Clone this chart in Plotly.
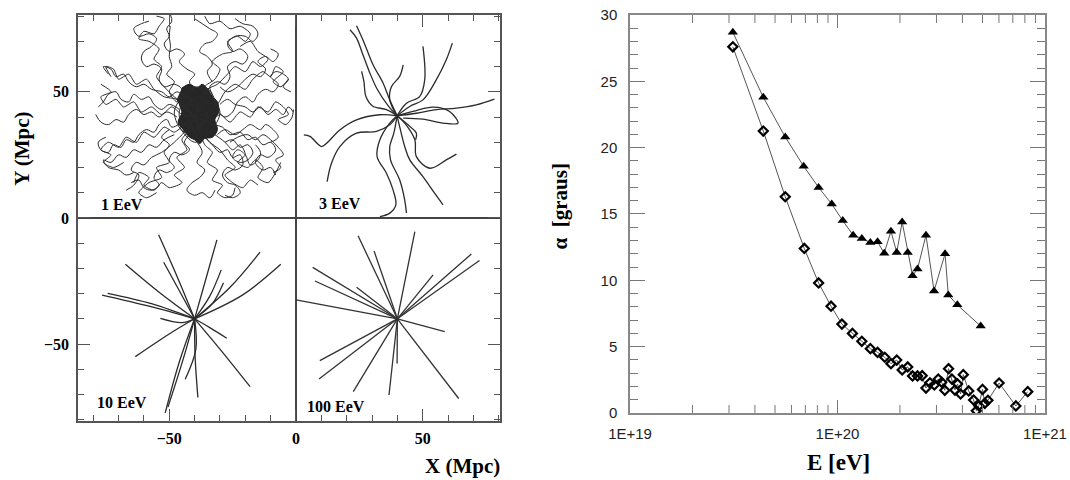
import plotly.graph_objects as go

# ---------------- Right panel data: deflection angle vs energy ----------------
E_tri = [3.13e19, 4.39e19, 5.60e19, 6.87e19, 8.11e19, 9.38e19, 1.06e20, 1.19e20,
         1.31e20, 1.44e20, 1.56e20, 1.68e20, 1.81e20, 1.93e20, 2.05e20, 2.18e20,
         2.30e20, 2.43e20, 2.67e20, 2.92e20, 3.30e20, 3.42e20, 3.78e20, 4.90e20]
alpha_tri = [28.7, 23.8, 20.8, 18.6, 17.0, 15.75, 14.5, 13.4, 13.15, 12.85, 12.9, 12.05,
             13.7, 12.1, 14.4, 12.1, 10.35, 10.85, 13.4, 9.2, 12.0, 8.9, 8.15, 6.55]

E_dia = [3.13e19, 4.39e19, 5.60e19, 6.92e19, 8.11e19, 9.31e19, 1.05e20, 1.18e20,
         1.31e20, 1.44e20, 1.56e20, 1.69e20, 1.81e20, 1.93e20, 2.05e20, 2.18e20,
         2.30e20, 2.43e20, 2.56e20, 2.67e20, 2.79e20, 2.93e20, 3.06e20, 3.18e20,
         3.29e20, 3.43e20, 3.56e20, 3.68e20, 3.79e20, 3.92e20, 4.04e20, 4.29e20,
         4.53e20, 4.67e20, 4.80e20, 5.00e20, 5.13e20, 5.31e20, 6.01e20, 7.24e20, 8.26e20]
alpha_dia = [27.6, 21.25, 16.3, 12.4, 9.8, 8.05, 6.7, 6.0, 5.4, 4.85, 4.57, 4.2, 3.72,
             3.99, 3.25, 3.47, 2.79, 2.79, 2.81, 1.88, 2.28, 2.11, 2.56, 2.31, 1.71,
             3.34, 2.56, 1.73, 2.19, 1.43, 2.89, 1.66, 0.98, 0.17, 0.55, 1.78, 0.73,
             0.96, 2.26, 0.53, 1.61]

E_ticks = [1e19, 1e20, 1e21]
E_ticktext = ["1E+19", "1E+20", "1E+21"]
E_minor = [float(m) * 10.0 ** d for d in (19, 20) for m in range(2, 10)]

# ---------------- Left panel data: trajectories (Mpc) ----------------
# 1 EeV (diffusive, centred near (-40, 40)) - wandering tracks
traj_1EeV_a = [
    [(-38, 42), (-41, 45), (-44, 44), (-46, 47), (-45, 51), (-48, 53), (-52, 52), (-54, 55),
     (-53, 59), (-56, 61), (-59, 60), (-61, 63), (-60, 66), (-57, 68), (-55, 71), (-58, 73),
     (-62, 72), (-64, 75), (-61, 77), (-58, 78)],
    [(-36, 45), (-33, 48), (-34, 52), (-31, 54), (-28, 53), (-26, 56), (-27, 60), (-24, 62),
     (-21, 61), (-19, 64), (-22, 67), (-25, 66), (-27, 69), (-24, 72), (-20, 72), (-17, 70),
     (-15, 73), (-17, 76), (-21, 77), (-24, 79)],
    [(-35, 40), (-31, 42), (-28, 40), (-25, 42), (-23, 46), (-20, 48), (-17, 46), (-15, 49),
     (-12, 51), (-9, 50), (-7, 53), (-10, 56), (-8, 58), (-5, 57), (-3, 55), (-5, 52), (-2, 50)],
    [(-33, 37), (-29, 36), (-26, 33), (-22, 34), (-19, 31), (-16, 32), (-13, 29), (-10, 30),
     (-8, 27), (-11, 24), (-14, 25), (-16, 22), (-13, 19), (-10, 20), (-8, 17)],
    [(-36, 32), (-33, 29), (-30, 26), (-27, 27), (-25, 24), (-22, 25), (-21, 21), (-24, 19),
     (-27, 20), (-29, 17), (-27, 14), (-24, 13), (-22, 10), (-25, 8), (-28, 9)],
    [(-42, 33), (-44, 30), (-42, 27), (-45, 25), (-48, 26), (-50, 23), (-48, 20), (-51, 18),
     (-54, 19), (-56, 16), (-54, 13), (-57, 11), (-60, 12), (-62, 15), (-65, 14)],
    [(-45, 38), (-49, 36), (-51, 39), (-54, 37), (-56, 34), (-59, 35), (-62, 33), (-64, 30),
     (-67, 31), (-69, 28), (-72, 29), (-74, 26), (-77, 27), (-78, 30), (-75, 32)],
    [(-46, 43), (-50, 45), (-53, 43), (-56, 45), (-58, 48), (-61, 47), (-64, 49), (-66, 46),
     (-69, 47), (-71, 50), (-74, 49), (-76, 46), (-78, 44)],
    [(-44, 48), (-47, 50), (-50, 48), (-53, 50), (-57, 51), (-60, 53), (-63, 52), (-66, 54),
     (-68, 57), (-71, 56), (-73, 59), (-76, 60), (-74, 57)],
    [(-40, 50), (-42, 54), (-40, 57), (-43, 59), (-46, 62), (-44, 65), (-47, 67), (-50, 66),
     (-52, 69), (-50, 72), (-51, 75), (-49, 78), (-49.5, 80.5)],
    [(-30, 45), (-27, 47), (-24, 45), (-20, 44), (-17, 42), (-14, 44), (-11, 41), (-8, 43),
     (-5, 41), (-3, 44), (-1, 42)],
    [(-28, 30), (-25, 31), (-22, 28), (-19, 29), (-17, 26), (-19, 23), (-22, 22), (-25, 24),
     (-23, 27), (-20, 25), (-18, 21), (-15, 23), (-14, 26), (-16, 29)],
    [(-31, 33), (-28, 35), (-24, 33), (-21, 35), (-18, 37), (-14, 35), (-12, 37), (-9, 35),
     (-7, 32), (-10, 30)],
    [(-48, 33), (-52, 31), (-55, 28), (-58, 29), (-61, 26), (-64, 27), (-67, 24), (-70, 25),
     (-73, 22), (-76, 23), (-74, 20), (-70, 19), (-67, 17), (-64, 18)],
    [(-39, 30), (-37, 26), (-39, 22), (-36, 19), (-38, 16), (-41, 14), (-43, 11), (-40, 9),
     (-37, 10), (-34, 8), (-32, 11)],
    [(-33, 54), (-35, 58), (-33, 61), (-35, 64), (-38, 66), (-36, 69), (-33, 70), (-31, 73),
     (-34, 75), (-37, 77), (-40, 79)],
    [(-47, 40), (-51, 42), (-54, 40), (-57, 42), (-60, 41), (-63, 43), (-66, 41), (-68, 38),
     (-71, 39), (-74, 37), (-77, 38), (-79, 41)],
    [(-26, 30), (-23, 32), (-19, 33), (-16, 31), (-13, 33), (-10, 31), (-7, 28), (-5, 25),
     (-8, 23), (-6, 20), (-9, 18)],
    [(-30, 52), (-27, 50), (-23, 52), (-20, 55), (-17, 57), (-14, 56), (-12, 59), (-15, 62),
     (-12, 64), (-9, 62), (-7, 65), (-10, 67)],
    [(-50, 35), (-53, 32), (-50, 29), (-53, 26), (-57, 24), (-60, 21), (-63, 22), (-65, 19),
     (-62, 17), (-64, 13), (-67, 11)],
    [(-40, 40), (-44, 44), (-38, 48), (-34, 44), (-40, 36), (-46, 40), (-42, 50), (-36, 52),
     (-32, 46), (-36, 38), (-44, 34), (-48, 42), (-44, 48), (-38, 44), (-34, 38), (-38, 32),
     (-42, 38), (-46, 46), (-40, 52), (-34, 48), (-30, 42), (-34, 34), (-40, 30), (-46, 36)],
]
# 1 EeV - second family of tracks, leaving the core
traj_1EeV_b = [
    [(-40, 40), (-43, 44), (-41, 47), (-45, 49), (-47, 46), (-50, 50), (-48, 54), (-51, 57),
     (-49, 60), (-50, 64), (-49.5, 68), (-50, 72), (-49.6, 76)],
    [(-40, 40), (-44, 45), (-48, 48), (-52, 52), (-55, 56), (-53, 60), (-56, 63), (-54, 67),
     (-58, 70), (-62, 71), (-60, 74), (-56, 73), (-54, 76), (-52, 79), (-55, 80)],
    [(-40, 40), (-37, 45), (-34, 48), (-36, 52), (-32, 55), (-30, 59), (-33, 62), (-29, 65),
     (-25, 66), (-27, 70), (-23, 72), (-20, 70), (-18, 73), (-22, 76), (-26, 75), (-30, 78),
     (-34, 77), (-36, 80)],
    [(-40, 40), (-35, 42), (-31, 45), (-28, 50), (-24, 53), (-20, 51), (-17, 55), (-13, 58),
     (-10, 56), (-8, 60), (-5, 58), (-9, 54), (-6, 52), (-3, 55)],
    [(-40, 40), (-34, 38), (-30, 41), (-26, 38), (-22, 42), (-18, 40), (-15, 44), (-11, 42),
     (-8, 46), (-5, 44), (-3, 41), (-7, 39), (-4, 37), (-1.5, 40), (-1, 43)],
    [(-40, 40), (-36, 35), (-32, 33), (-28, 30), (-25, 27), (-22, 29), (-20, 25), (-23, 22),
     (-19, 20), (-16, 23), (-13, 20), (-15, 16), (-11, 14), (-8, 18), (-6, 22)],
    [(-40, 40), (-37, 34), (-34, 30), (-30, 27), (-27, 23), (-24, 20), (-28, 17), (-25, 14),
     (-21, 12), (-18, 15), (-15, 13)],
    [(-40, 40), (-38, 34), (-36, 29), (-33, 26), (-35, 22), (-31, 19), (-33, 15), (-29, 13),
     (-31, 10), (-28, 8), (-25, 9), (-24, 12)],
    [(-40, 40), (-42, 35), (-45, 31), (-43, 27), (-47, 24), (-44, 20), (-48, 17), (-45, 14),
     (-50, 12), (-53, 14), (-56, 11), (-60, 13), (-58, 16), (-62, 18), (-64, 14)],
    [(-40, 40), (-44, 37), (-48, 34), (-52, 36), (-56, 32), (-60, 34), (-63, 30), (-67, 32),
     (-70, 28), (-74, 30), (-77, 27), (-73, 25), (-76, 22), (-72, 20), (-68, 22)],
    [(-40, 40), (-45, 41), (-49, 44), (-53, 41), (-57, 44), (-61, 42), (-64, 46), (-68, 44),
     (-71, 47), (-75, 45), (-77, 48), (-73, 50), (-77, 53)],
    [(-40, 40), (-44, 43), (-47, 47), (-52, 48), (-56, 51), (-59, 55), (-63, 53), (-66, 57),
     (-70, 55), (-72, 59), (-75, 60), (-73, 56)],
    [(-40, 40), (-38, 46), (-35, 51), (-31, 53), (-27, 57), (-24, 60), (-20, 58), (-17, 62),
     (-14, 60), (-11, 63), (-15, 66), (-18, 70), (-22, 68)],
    [(-40, 40), (-44, 34), (-48, 30), (-52, 26), (-50, 22), (-55, 20), (-53, 16), (-58, 14),
     (-62, 10), (-59, 8), (-55, 10)],
]
# outline of the saturated (black) core of the 1 EeV tracks
core_x = [-45, -42, -39, -37, -34.5, -33, -31, -30.5, -32, -31, -33, -36, -38, -40, -42,
          -44.5, -46.5, -45, -47]
core_y = [51.5, 53, 51.5, 53, 50.5, 48, 46, 42, 39, 35, 32, 31.5, 29.5, 31, 32,
          35, 38, 42, 47]

# 3 EeV (centred at (40, 40))
traj_3EeV = [
    [(39.9, 40.5), (36.4, 44.4), (32.0, 51.1), (28.9, 58.1), (26.2, 65.3), (23.9, 71.3), (21.3, 74.6)],
    [(39.9, 40.5), (37.0, 46.8), (34.4, 53.4), (30.4, 60.7), (27.2, 68.7), (25.2, 73.3), (23.9, 76.2)],
    [(39.9, 40.5), (35.7, 42.9), (30.2, 44.4), (27.6, 48.1), (26.8, 54.1), (25.9, 58.1)],
    [(39.9, 40.5), (37.0, 46.8), (37.7, 52.1), (40.9, 56.1), (42.3, 60.7)],
    [(39.9, 40.5), (43.6, 45.5), (48.8, 48.1), (50.8, 54.8), (50.1, 68.0)],
    [(39.9, 40.5), (44.9, 44.2), (50.1, 46.8), (55.4, 54.8), (59.3, 62.7), (61.7, 69.3)],
    [(39.9, 40.5), (47.5, 41.5), (55.4, 42.9), (63.3, 43.5), (71.1, 44.8), (78.3, 47.1)],
    [(39.9, 40.5), (46.2, 42.2), (54.1, 43.9), (60.6, 42.2), (63.9, 37.6), (58.0, 37.6),
     (50.1, 39.2), (42.3, 39.6)],
    [(39.9, 40.5), (33.1, 40.9), (23.9, 38.9), (17.3, 34.9), (12.1, 29.6), (10.1, 28.3),
     (5.5, 32.3), (3.1, 32.9)],
    [(39.9, 40.5), (37.0, 36.9), (31.8, 34.3), (23.9, 33.6), (17.3, 28.3), (14.0, 21.7), (12.3, 14.4)],
    [(39.9, 40.5), (37.0, 37.6), (33.1, 31.0), (32.0, 24.3), (35.7, 17.7), (38.3, 11.1),
     (39.4, 5.2), (37.0, 1.9), (33.1, 0.5)],
    [(39.9, 40.5), (38.6, 33.6), (37.0, 28.3), (37.3, 23.0), (40.9, 15.1), (42.9, 7.1), (43.6, 1.9)],
    [(39.9, 40.5), (40.9, 36.2), (42.9, 28.3), (44.9, 23.0), (50.1, 16.4), (54.7, 9.8), (58.0, 5.2)],
    [(39.9, 40.5), (42.9, 37.6), (46.9, 31.0), (47.5, 24.3), (52.8, 19.7), (59.3, 23.0), (63.3, 25.3)],
    [(39.9, 40.5), (44.2, 36.9), (47.5, 33.6), (47.2, 31.0)],
]

# 10 EeV (centred at (-40, -40)): (mid point, end point)
traj_10EeV = [
    [(-40, -40), (-47, -23), (-54.2, -6.7)],
    [(-40, -40), (-35.5, -24), (-31.2, -8.7)],
    [(-40, -40), (-54, -29.5), (-67.3, -18.4)],
    [(-40, -40), (-46.5, -28), (-52.2, -17.6)],
    [(-40, -40), (-26, -27.5), (-14.2, -13.6)],
    [(-40, -40), (-21, -30.5), (-6.0, -18.4)],
    [(-40, -40), (-34, -31), (-29.5, -20.6)],
    [(-40, -40), (-33, -34), (-28.6, -25.7)],
    [(-40, -40), (-58, -35), (-76.5, -30.6)],
    [(-40, -40), (-57, -34), (-74.3, -29.9)],
    [(-40, -40), (-45, -41.5), (-53.5, -39.8)],
    [(-40, -40), (-34, -43.5), (-27.3, -47.7)],
    [(-40, -40), (-50, -46), (-63.4, -55)],
    [(-40, -40), (-46, -57), (-51.6, -77.3)],
    [(-40, -40), (-44.5, -56), (-50.5, -75)],
    [(-40, -40), (-39.5, -52), (-43.7, -64)],
    [(-40, -40), (-39.8, -55), (-38.7, -71.2)],
    [(-40, -40), (-30, -52), (-18.1, -66.9)],
]

# 100 EeV (centred at (40, -40)): end points of straight tracks
centre_100 = (40, -40)
ends_100EeV = [(24.5, -7.1), (30.8, -13.1), (46.9, -5.4), (6.6, -19.6), (7.5, -25.0),
               (23.9, -27.5), (0.0, -32.5), (69.2, -14.3), (72.4, -16.9), (54.1, -22.6),
               (58.7, -45.1), (9.4, -56.6), (9.1, -63.9), (22.6, -68.9), (36.7, -70.2),
               (39.9, -57.7), (64.2, -71.6)]

panel_labels = ["1 EeV", "3 EeV", "10 EeV", "100 EeV"]
panel_label_pos = [(-77.6, 5.2), (8.1, 5.8), (-79.1, -73.2), (3.5, -74.6)]


def joined(paths):
    xs, ys = [], []
    for p in paths:
        xs += [pt[0] for pt in p] + [None]
        ys += [pt[1] for pt in p] + [None]
    return xs, ys


fig = go.Figure()
TRK = "#2b2b2b"

fig.add_trace(go.Scatter(x=core_x, y=core_y, mode="lines", fill="toself",
                         fillcolor="rgba(20,20,20,0.92)",
                         line=dict(color="#1a1a1a", width=1, shape="spline"),
                         xaxis="x", yaxis="y", showlegend=False, hoverinfo="skip"))
xa, ya = joined(traj_1EeV_a)
fig.add_trace(go.Scatter(x=xa, y=ya, mode="lines",
                         line=dict(color=TRK, width=1.0, shape="spline", smoothing=1.0),
                         xaxis="x", yaxis="y", showlegend=False, hoverinfo="skip"))
xb, yb = joined(traj_1EeV_b)
fig.add_trace(go.Scatter(x=xb, y=yb, mode="lines",
                         line=dict(color=TRK, width=1.0, shape="spline", smoothing=0.7),
                         xaxis="x", yaxis="y", showlegend=False, hoverinfo="skip"))
x3, y3 = joined(traj_3EeV)
fig.add_trace(go.Scatter(x=x3, y=y3, mode="lines", line=dict(color=TRK, width=1.3, shape="spline"),
                         xaxis="x", yaxis="y", showlegend=False, hoverinfo="skip"))
x10, y10 = joined(traj_10EeV)
fig.add_trace(go.Scatter(x=x10, y=y10, mode="lines", line=dict(color=TRK, width=1.3, shape="spline"),
                         xaxis="x", yaxis="y", showlegend=False, hoverinfo="skip"))
x100, y100 = joined([[centre_100, e] for e in ends_100EeV])
fig.add_trace(go.Scatter(x=x100, y=y100, mode="lines", line=dict(color="#333333", width=1.3),
                         xaxis="x", yaxis="y", showlegend=False, hoverinfo="skip"))

# right panel
fig.add_trace(go.Scatter(x=E_tri, y=alpha_tri, mode="lines+markers",
                         line=dict(color="#555555", width=1),
                         marker=dict(symbol="triangle-up", size=9, color="black"),
                         xaxis="x2", yaxis="y2", showlegend=False))
fig.add_trace(go.Scatter(x=E_dia, y=alpha_dia, mode="lines+markers",
                         line=dict(color="#555555", width=1),
                         marker=dict(symbol="diamond-open", size=7, color="black",
                                     line=dict(width=2.2, color="black")),
                         xaxis="x2", yaxis="y2", showlegend=False))

serif_bold = dict(family="Liberation Serif", size=16, color="black", weight="bold")
arial = dict(family="Liberation Sans", size=15, color="#222222")
RD = [0.5888, 0.9766]
RY = [0.1396, 0.9688]

fig.update_layout(
    width=1070, height=480,
    margin=dict(l=0, r=0, t=0, b=0),
    paper_bgcolor="white", plot_bgcolor="white",
    xaxis=dict(domain=[0.0729, 0.4673], range=[-86, 80.5], showgrid=False, automargin=False,
               zeroline=True, zerolinecolor="#444444", zerolinewidth=1.5,
               showline=True, linecolor="#555555", linewidth=1.5, mirror="allticks",
               ticks="inside", ticklen=12, tickcolor="#555555", dtick=50, tick0=0,
               minor=dict(ticks="inside", dtick=10, tick0=0, ticklen=6, tickcolor="#555555"),
               tickfont=serif_bold, ticklabelstandoff=2),
    yaxis=dict(domain=[0.123, 0.969], range=[-80.5, 80.5], showgrid=False, automargin=False,
               zeroline=True, zerolinecolor="#444444", zerolinewidth=1.5,
               showline=True, linecolor="#555555", linewidth=1.5, mirror="allticks",
               ticks="inside", ticklen=12, tickcolor="#555555", dtick=50, tick0=0,
               minor=dict(ticks="inside", dtick=10, tick0=0, ticklen=6, tickcolor="#555555"),
               tickfont=serif_bold, ticklabelstandoff=4),
    xaxis2=dict(domain=RD, type="log", range=[19, 21], showgrid=False, automargin=False,
                showline=True, linecolor="#888888", linewidth=1.5, mirror="allticks",
                tickmode="array", tickvals=E_ticks, ticktext=E_ticktext,
                ticks="inside", ticklen=13, tickcolor="#777777",
                tickfont=arial, ticklabelstandoff=6, anchor="y2"),
    yaxis2=dict(domain=RY, range=[0, 30], showgrid=False, zeroline=False,
                automargin=False,
                showline=True, linecolor="#888888", linewidth=1.5, mirror="allticks",
                dtick=5, tick0=0, ticks="inside", ticklen=15, tickcolor="#777777",
                minor=dict(ticks="inside", dtick=1, tick0=0, ticklen=8, tickcolor="#777777"),
                tickfont=arial, ticklabelstandoff=8, anchor="x2"),
)

# minor ticks of the logarithmic energy axis (bottom and top, pointing inward)
for v in E_minor:
    fig.add_shape(type="line", xref="x2", yref="paper", x0=v, x1=v,
                  ysizemode="pixel", yanchor=RY[0], y0=0, y1=8,
                  line=dict(color="#777777", width=1))
    fig.add_shape(type="line", xref="x2", yref="paper", x0=v, x1=v,
                  ysizemode="pixel", yanchor=RY[1], y0=0, y1=-8,
                  line=dict(color="#777777", width=1))

for txt, (px, py) in zip(panel_labels, panel_label_pos):
    fig.add_annotation(x=px, y=py, xref="x", yref="y", text=txt, showarrow=False,
                       xanchor="left", yanchor="middle", font=serif_bold)

title_font = dict(family="Liberation Serif", size=21, color="black", weight="bold")
fig.add_annotation(x=0.0206, y=0.69, xref="paper", yref="paper", text="Y (Mpc)",
                   textangle=-90, showarrow=False, font=title_font,
                   xanchor="center", yanchor="middle")
fig.add_annotation(x=0.4327, y=0.029, xref="paper", yref="paper", text="X (Mpc)",
                   showarrow=False, font=title_font, xanchor="center", yanchor="middle")
fig.add_annotation(x=0.5234, y=0.57, xref="paper", yref="paper", text="α  [graus]",
                   textangle=-90, showarrow=False, font=title_font,
                   xanchor="center", yanchor="middle")
fig.add_annotation(x=0.784, y=0.037, xref="paper", yref="paper", text="E [eV]",
                   showarrow=False, xanchor="center", yanchor="middle",
                   font=dict(family="Liberation Serif", size=23, color="black", weight="bold"))

fig.write_html("out.html", config={"displayModeBar": False},
               post_script="document.body.style.margin='0px';document.body.style.overflow='hidden';")
